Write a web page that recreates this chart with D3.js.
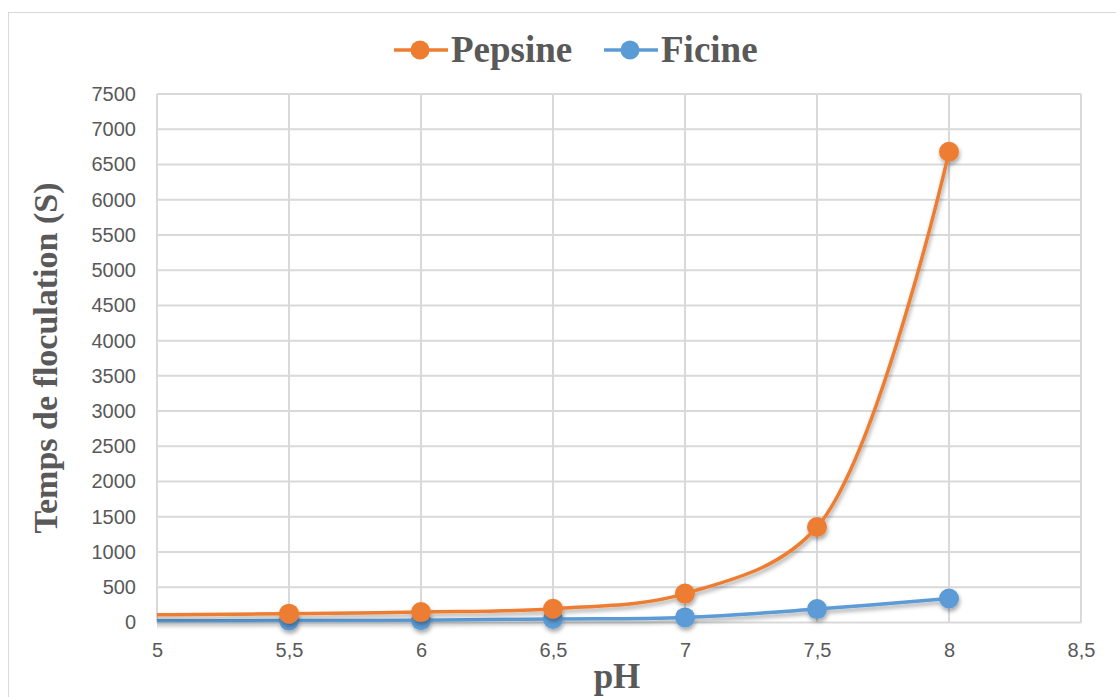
<!DOCTYPE html>
<html>
<head>
<meta charset="utf-8">
<script src="https://cdn.jsdelivr.net/npm/d3@7"></script>
<style>
  body { margin: 0; background: #fff; }
  text { fill: #595959; }
</style>
</head>
<body>
<div id="chart"></div>
<script>
var width = 1116, height = 697;
var margin = { top: 94, right: 35, bottom: 74.5, left: 157 };

// Data
var seriesNames = ["Pepsine", "Ficine"];
var colors = ["#ED7D31", "#5B9BD5"];
var phPepsine = [4.5, 5.5, 6, 6.5, 7, 7.5, 8];
var tempsPepsine = [95, 125, 148, 195, 410, 1355, 6680];
var phFicine = [4.5, 5.5, 6, 6.5, 7, 7.5, 8];
var tempsFicine = [20, 27, 32, 50, 72, 190, 340];
var xTicks = [5, 5.5, 6, 6.5, 7, 7.5, 8, 8.5];
var yTicks = d3.range(0, 7501, 500);

var w = width - margin.left - margin.right,
    h = height - margin.top - margin.bottom;

var svg = d3.select("#chart").append("svg")
  .attr("width", width)
  .attr("height", height);

// outer chart border
svg.append("rect")
  .attr("x", 8.5).attr("y", 12.5)
  .attr("width", 1130).attr("height", 720)
  .attr("fill", "none").attr("stroke", "#d9d9d9");

var defs = svg.append("defs");
defs.append("clipPath").attr("id", "clip")
  .append("rect").attr("x", 0).attr("y", -20).attr("width", w + 20).attr("height", h + 40);
var f = defs.append("filter").attr("id", "shadow")
  .attr("x", "-10%").attr("y", "-10%").attr("width", "130%").attr("height", "130%");
f.append("feDropShadow").attr("dx", 1).attr("dy", 3).attr("stdDeviation", 2)
  .attr("flood-color", "#000").attr("flood-opacity", 0.35);

var g = svg.append("g").attr("transform", "translate(" + margin.left + "," + margin.top + ")");

var xScale = d3.scaleLinear().domain([5, 8.5]).range([0, w]);
var yScale = d3.scaleLinear().domain([0, 7500]).range([h, 0]);
var fmtX = function(d) { return String(d).replace(".", ","); };
var fmtY = function(d) { return String(d); };

// gridlines
g.append("g").selectAll("line").data(yTicks).enter().append("line")
  .attr("x1", 0).attr("x2", w)
  .attr("y1", function(d) { return yScale(d); })
  .attr("y2", function(d) { return yScale(d); })
  .attr("stroke", "#d9d9d9").attr("stroke-width", 2);
g.append("g").selectAll("line").data(xTicks).enter().append("line")
  .attr("y1", 0).attr("y2", h)
  .attr("x1", function(d) { return xScale(d); })
  .attr("x2", function(d) { return xScale(d); })
  .attr("stroke", "#d9d9d9").attr("stroke-width", 2);

// axes
var xAxis = d3.axisBottom(xScale).tickValues(xTicks).tickFormat(fmtX).tickSize(0).tickPadding(20);
var yAxis = d3.axisLeft(yScale).tickValues(yTicks).tickFormat(fmtY).tickSize(0).tickPadding(21);
g.append("g").attr("transform", "translate(0," + h + ")").call(xAxis)
  .call(function(s) { s.select(".domain").remove(); })
  .selectAll("text").style("font-family", "Liberation Sans, Arial").style("font-size", "20px").style("fill", "#595959");
g.append("g").call(yAxis)
  .call(function(s) { s.select(".domain").remove(); })
  .selectAll("text").style("font-family", "Liberation Sans, Arial").style("font-size", "20px").style("fill", "#595959");

// series
var series = [
  { name: seriesNames[0], color: colors[0], points: phPepsine.map(function(x, i) { return { x: x, y: tempsPepsine[i] }; }) },
  { name: seriesNames[1], color: colors[1], points: phFicine.map(function(x, i) { return { x: x, y: tempsFicine[i] }; }) }
];

var line = d3.line()
  .curve(d3.curveCatmullRom.alpha(0.5))
  .x(function(d) { return xScale(d.x); })
  .y(function(d) { return yScale(d.y); });

var plot = g.append("g").attr("clip-path", "url(#clip)");
var sg = plot.selectAll(".series").data(series.slice().reverse()).enter().append("g")
  .attr("filter", "url(#shadow)");
sg.append("path")
  .attr("d", function(d) { return line(d.points); })
  .attr("fill", "none")
  .attr("stroke", function(d) { return d.color; })
  .attr("stroke-width", 3.5);
sg.selectAll("circle").data(function(d) { return d.points.map(function(p) { return { p: p, c: d.color }; }); })
  .enter().append("circle")
  .attr("cx", function(d) { return xScale(d.p.x); })
  .attr("cy", function(d) { return yScale(d.p.y); })
  .attr("r", 10)
  .attr("fill", function(d) { return d.c; });

// axis titles
svg.append("text")
  .attr("x", 617).attr("y", 688)
  .attr("text-anchor", "middle")
  .style("font-family", "Liberation Serif, Times New Roman").style("font-weight", "bold")
  .style("font-size", "35px").style("fill", "#595959")
  .text("pH");
svg.append("text")
  .attr("transform", "translate(57,358) rotate(-90)")
  .attr("text-anchor", "middle")
  .style("font-family", "Liberation Serif, Times New Roman").style("font-weight", "bold")
  .style("font-size", "34px").style("fill", "#595959")
  .text("Temps de floculation (S)");

// legend
var legendX = [394, 604];
var lg = svg.selectAll(".legend").data(series).enter().append("g")
  .attr("transform", function(d, i) { return "translate(" + legendX[i] + ",50)"; });
lg.append("line").attr("x1", 0).attr("x2", 54)
  .attr("stroke", function(d) { return d.color; }).attr("stroke-width", 3.5);
lg.append("circle").attr("cx", 26).attr("r", 9.5)
  .attr("fill", function(d) { return d.color; });
lg.append("text").attr("x", 57).attr("y", 12)
  .style("font-family", "Liberation Serif, Times New Roman").style("font-weight", "bold")
  .style("font-size", "37px").style("fill", "#595959")
  .text(function(d) { return d.name; });
</script>
</body>
</html>
